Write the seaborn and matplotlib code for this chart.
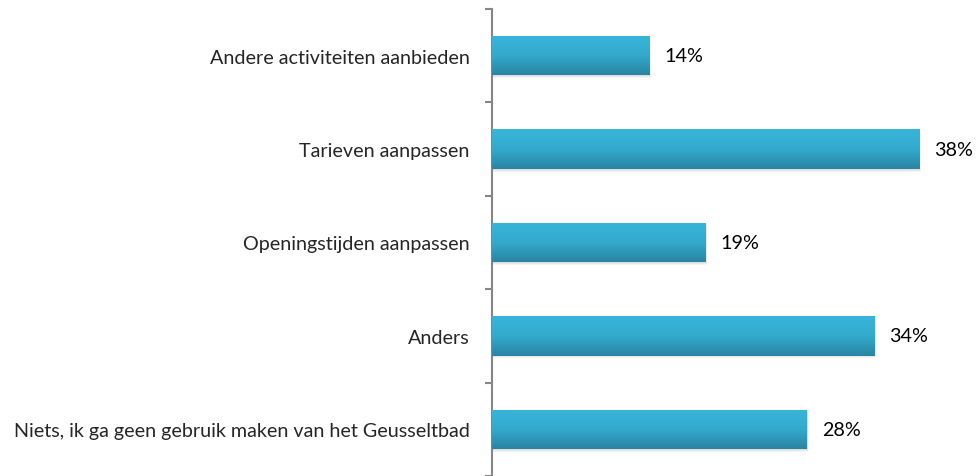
import numpy as np
import pandas as pd
import matplotlib.pyplot as plt
import seaborn as sns
from matplotlib.patches import Rectangle

categorias = [
    "Andere activiteiten aanbieden",
    "Tarieven aanpassen",
    "Openingstijden aanpassen",
    "Anders",
    "Niets, ik ga geen gebruik maken van het Geusseltbad",
]
porcentajes = [0.14, 0.38, 0.19, 0.34, 0.28]

df = pd.DataFrame({"categoria": categorias, "pct": porcentajes})

sns.set_style("white")
plt.rcParams["font.family"] = ["Lato", "DejaVu Sans"]

fig = plt.figure(figsize=(9.78, 4.77), dpi=100)
ax = fig.add_axes([492 / 978, 0.0, (942 - 492) / 978, 1 - 10 / 477])

sns.barplot(data=df, x="pct", y="categoria", orient="h", color="#33aed3",
            width=0.42, ax=ax, edgecolor="none", zorder=3)

ax.set_xlim(0, 0.40)
ax.set_ylim(len(categorias) - 0.5, -0.5)

# degradado y sombra estilo Excel
grad = np.linspace(0, 1, 256).reshape(-1, 1)
cmap = sns.blend_palette(["#39b5da", "#33aacd", "#2985a2"], as_cmap=True)
for p in list(ax.patches):
    x0, y0 = p.get_x(), p.get_y()
    w, h = p.get_width(), p.get_height()
    for k, a in [(0.03, 0.10), (0.02, 0.12), (0.01, 0.15)]:
        sombra = Rectangle((x0 + 0.0004, y0 + k), w + k * 0.02, h,
                           facecolor="#999999", alpha=a, edgecolor="none",
                           zorder=2)
        ax.add_patch(sombra)
    im = ax.imshow(grad, extent=(x0, x0 + w, y0 + h, y0), aspect="auto",
                   cmap=cmap, zorder=4)
    im.set_clip_path(p)
    ax.text(x0 + w + 0.013, y0 + h / 2, f"{w:.0%}", va="center", ha="left",
            fontsize=14.2, color="#000000")

ax.set_xlim(0, 0.40)
ax.set_ylim(len(categorias) - 0.5, -0.5)

for s in ["top", "right", "bottom"]:
    ax.spines[s].set_visible(False)
ax.spines["left"].set_color("#868686")
ax.spines["left"].set_linewidth(1.5)

ax.set_xticks([])
ax.set_xlabel("")
ax.set_ylabel("")
ax.set_yticks(np.arange(-0.5, len(categorias), 1.0), minor=True)
ax.tick_params(axis="y", which="major", left=False, length=0, pad=16,
               labelsize=14.2)
ax.tick_params(axis="y", which="minor", left=True, length=5, width=1.5,
               color="#868686")

fig.savefig("out.png", dpi=100)
